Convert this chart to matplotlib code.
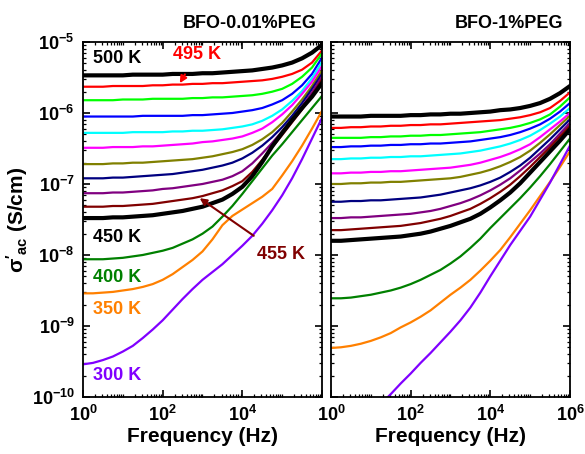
import numpy as np
import matplotlib
matplotlib.use('Agg')
import matplotlib.pyplot as plt
from matplotlib.ticker import LogLocator, LogFormatterMathtext, NullFormatter

# ---------- fontes ----------
plt.rcParams['font.family'] = ['Liberation Sans', 'DejaVu Sans']
plt.rcParams['font.weight'] = 'bold'
plt.rcParams['mathtext.fontset'] = 'custom'
plt.rcParams['mathtext.rm'] = 'Liberation Sans:bold'
plt.rcParams['mathtext.it'] = 'Liberation Sans:bold'
plt.rcParams['mathtext.bf'] = 'Liberation Sans:bold'
plt.rcParams['mathtext.sf'] = 'Liberation Sans:bold'
plt.rcParams['mathtext.default'] = 'bf'

# ---------- dados (log10 da frequência e log10 da condutividade) ----------
log_freq = [0, 0.25, 0.5, 0.75, 1, 1.25, 1.5, 1.75, 2, 2.25, 2.5, 2.75, 3,
            3.25, 3.5, 3.75, 4, 4.25, 4.5, 4.75, 5, 5.25, 5.5, 5.75, 6]

temperatures = [500, 495, 490, 485, 480, 475, 470, 465, 460, 455, 450, 400, 350, 300]
curve_colors = ['#000000', '#FF0000', '#00FF00', '#0000FF', '#00FFFF', '#FF00FF',
                '#808000', '#000080', '#800080', '#800000', '#000000', '#008000',
                '#FF8000', '#8000FF']
curve_widths = [3.0, 1.6, 1.6, 1.6, 1.6, 1.6, 1.6, 1.6, 1.6, 1.6, 3.0, 1.6, 1.6, 1.6]

nan = np.nan

# BFO-0.01%PEG, uma linha por temperatura (mesma ordem de temperatures)
peg001_log_sigma = [
    [-5.47, -5.47, -5.47, -5.47, -5.47, -5.46, -5.46, -5.46, -5.46, -5.45, -5.45, -5.45, -5.44, -5.44, -5.43, -5.42, -5.41, -5.40, -5.38, -5.36, -5.33, -5.29, -5.23, -5.15, -5.04],
    [-5.63, -5.63, -5.63, -5.62, -5.62, -5.62, -5.62, -5.61, -5.61, -5.60, -5.60, -5.59, -5.59, -5.58, -5.58, -5.57, -5.56, -5.55, -5.54, -5.52, -5.49, -5.45, -5.39, -5.29, -5.12],
    [-5.82, -5.82, -5.82, -5.82, -5.81, -5.81, -5.81, -5.80, -5.80, -5.80, -5.80, -5.79, -5.79, -5.78, -5.78, -5.77, -5.76, -5.75, -5.73, -5.70, -5.66, -5.59, -5.49, -5.36, -5.16],
    [-6.05, -6.05, -6.05, -6.05, -6.05, -6.05, -6.04, -6.04, -6.04, -6.04, -6.04, -6.03, -6.03, -6.02, -6.01, -6.00, -5.98, -5.96, -5.93, -5.88, -5.82, -5.73, -5.61, -5.45, -5.22],
    [-6.28, -6.28, -6.28, -6.28, -6.28, -6.27, -6.27, -6.27, -6.27, -6.26, -6.26, -6.25, -6.25, -6.24, -6.23, -6.21, -6.19, -6.16, -6.11, -6.04, -5.95, -5.83, -5.69, -5.51, -5.28],
    [-6.49, -6.49, -6.49, -6.48, -6.48, -6.48, -6.47, -6.47, -6.46, -6.45, -6.44, -6.43, -6.41, -6.40, -6.38, -6.36, -6.33, -6.28, -6.22, -6.13, -6.02, -5.89, -5.73, -5.56, -5.34],
    [-6.72, -6.72, -6.72, -6.71, -6.71, -6.70, -6.70, -6.69, -6.68, -6.67, -6.66, -6.65, -6.63, -6.61, -6.58, -6.55, -6.51, -6.45, -6.37, -6.27, -6.14, -5.98, -5.81, -5.62, -5.40],
    [-6.92, -6.92, -6.92, -6.91, -6.91, -6.90, -6.89, -6.88, -6.87, -6.86, -6.84, -6.82, -6.80, -6.77, -6.74, -6.70, -6.64, -6.56, -6.46, -6.34, -6.20, -6.04, -5.86, -5.66, -5.45],
    [-7.13, -7.13, -7.13, -7.12, -7.12, -7.11, -7.10, -7.09, -7.07, -7.06, -7.04, -7.02, -7.00, -6.97, -6.94, -6.89, -6.82, -6.71, -6.57, -6.42, -6.26, -6.09, -5.91, -5.71, -5.49],
    [-7.32, -7.32, -7.32, -7.31, -7.31, -7.30, -7.29, -7.28, -7.26, -7.24, -7.22, -7.20, -7.17, -7.13, -7.09, -7.03, -6.96, -6.83, -6.66, -6.48, -6.31, -6.13, -5.95, -5.75, -5.53],
    [-7.48, -7.48, -7.48, -7.47, -7.47, -7.46, -7.45, -7.44, -7.42, -7.40, -7.38, -7.35, -7.32, -7.27, -7.22, -7.14, -7.04, -6.89, -6.69, -6.47, -6.28, -6.10, -5.93, -5.77, -5.58],
    [-8.06, -8.06, -8.06, -8.05, -8.04, -8.02, -8.00, -7.97, -7.94, -7.90, -7.84, -7.78, -7.70, -7.60, -7.46, -7.31, -7.14, -6.96, -6.78, -6.60, -6.44, -6.27, -6.10, -5.93, -5.76],
    [-8.54, -8.54, -8.53, -8.52, -8.50, -8.48, -8.45, -8.41, -8.35, -8.27, -8.17, -8.07, -7.95, -7.78, -7.58, -7.45, -7.36, -7.27, -7.18, -7.07, -6.88, -6.68, -6.46, -6.22, -5.97],
    [-9.54, -9.52, -9.48, -9.43, -9.36, -9.28, -9.17, -9.05, -8.92, -8.77, -8.62, -8.48, -8.35, -8.24, -8.13, -8.00, -7.87, -7.73, -7.56, -7.37, -7.16, -6.92, -6.65, -6.36, -6.07],
]

# BFO-1%PEG
peg1_log_sigma = [
    [-6.05, -6.05, -6.05, -6.05, -6.04, -6.04, -6.04, -6.04, -6.03, -6.03, -6.02, -6.02, -6.01, -6.01, -6.00, -5.99, -5.98, -5.96, -5.95, -5.93, -5.90, -5.86, -5.80, -5.72, -5.62],
    [-6.21, -6.21, -6.20, -6.20, -6.19, -6.19, -6.18, -6.18, -6.17, -6.17, -6.16, -6.16, -6.15, -6.14, -6.13, -6.12, -6.11, -6.10, -6.08, -6.06, -6.03, -5.99, -5.93, -5.83, -5.71],
    [-6.35, -6.35, -6.35, -6.35, -6.34, -6.34, -6.33, -6.33, -6.32, -6.32, -6.31, -6.31, -6.30, -6.29, -6.28, -6.27, -6.25, -6.23, -6.21, -6.18, -6.14, -6.09, -6.02, -5.91, -5.78],
    [-6.48, -6.48, -6.47, -6.47, -6.46, -6.46, -6.45, -6.45, -6.44, -6.44, -6.43, -6.43, -6.42, -6.41, -6.40, -6.38, -6.36, -6.34, -6.31, -6.27, -6.22, -6.16, -6.08, -5.98, -5.86],
    [-6.65, -6.65, -6.64, -6.64, -6.63, -6.63, -6.62, -6.62, -6.61, -6.61, -6.60, -6.59, -6.58, -6.57, -6.55, -6.53, -6.50, -6.47, -6.43, -6.38, -6.32, -6.24, -6.15, -6.05, -5.93],
    [-6.85, -6.85, -6.84, -6.84, -6.83, -6.83, -6.82, -6.82, -6.81, -6.80, -6.79, -6.78, -6.77, -6.75, -6.73, -6.70, -6.66, -6.62, -6.57, -6.51, -6.44, -6.34, -6.23, -6.12, -6.00],
    [-7.00, -7.00, -6.99, -6.99, -6.98, -6.98, -6.97, -6.97, -6.96, -6.95, -6.94, -6.93, -6.92, -6.90, -6.87, -6.84, -6.80, -6.75, -6.69, -6.62, -6.53, -6.42, -6.30, -6.17, -6.04],
    [-7.25, -7.25, -7.24, -7.24, -7.23, -7.23, -7.22, -7.21, -7.20, -7.19, -7.17, -7.15, -7.12, -7.09, -7.06, -7.02, -6.97, -6.91, -6.83, -6.74, -6.63, -6.50, -6.37, -6.23, -6.09],
    [-7.48, -7.48, -7.47, -7.47, -7.46, -7.45, -7.44, -7.43, -7.42, -7.40, -7.38, -7.35, -7.31, -7.27, -7.22, -7.16, -7.09, -7.01, -6.92, -6.81, -6.69, -6.57, -6.44, -6.29, -6.14],
    [-7.65, -7.65, -7.64, -7.63, -7.62, -7.61, -7.60, -7.59, -7.57, -7.55, -7.52, -7.49, -7.45, -7.40, -7.35, -7.28, -7.20, -7.11, -7.01, -6.89, -6.76, -6.62, -6.48, -6.33, -6.18],
    [-7.80, -7.80, -7.79, -7.78, -7.77, -7.76, -7.75, -7.74, -7.72, -7.70, -7.67, -7.63, -7.59, -7.54, -7.49, -7.42, -7.33, -7.23, -7.12, -6.99, -6.84, -6.69, -6.54, -6.39, -6.23],
    [-8.61, -8.61, -8.60, -8.58, -8.56, -8.53, -8.50, -8.46, -8.41, -8.35, -8.28, -8.21, -8.12, -8.02, -7.90, -7.77, -7.62, -7.48, -7.34, -7.20, -7.05, -6.89, -6.72, -6.54, -6.36],
    [-9.31, -9.30, -9.28, -9.25, -9.21, -9.16, -9.10, -9.02, -8.95, -8.87, -8.78, -8.67, -8.56, -8.46, -8.35, -8.22, -8.08, -7.93, -7.75, -7.56, -7.37, -7.17, -6.97, -6.76, -6.54],
    [nan, nan, nan, nan, -10.24, -10.10, -9.96, -9.81, -9.67, -9.52, -9.38, -9.23, -9.08, -8.92, -8.74, -8.53, -8.30, -8.08, -7.86, -7.66, -7.46, -7.22, -6.98, -6.72, -6.46],
]


# ---------- eixos ----------
def style_axis(ax, show_ylabels, xlabels):
    ax.set_xscale('log')
    ax.set_yscale('log')
    ax.set_xlim(1, 1e6)
    ax.set_ylim(1e-10, 1e-5)
    ax.set_xticks([1, 1e2, 1e4, 1e6], labels=xlabels)
    ax.xaxis.set_minor_locator(LogLocator(base=10, subs=np.arange(1, 10), numticks=20))
    ax.xaxis.set_minor_formatter(NullFormatter())
    ax.yaxis.set_major_locator(LogLocator(base=10, numticks=10))
    ax.yaxis.set_minor_locator(LogLocator(base=10, subs=np.arange(2, 10), numticks=20))
    ax.yaxis.set_minor_formatter(NullFormatter())
    if show_ylabels:
        ax.yaxis.set_major_formatter(LogFormatterMathtext())
    else:
        ax.yaxis.set_major_formatter(NullFormatter())
    ax.tick_params(which='both', direction='in', top=True, right=True, labelsize=13)
    ax.tick_params(which='major', length=5, width=1.2, pad=6)
    ax.tick_params(which='minor', length=2.5, width=0.9)
    for sp in ax.spines.values():
        sp.set_linewidth(1.3)
    ax.set_xlabel('Frequency (Hz)', fontsize=15, fontweight='bold', labelpad=1)


def plot_panel(ax, log_sigma):
    freq = 10 ** np.array(log_freq)
    for row, color, lw in zip(log_sigma, curve_colors, curve_widths):
        ax.plot(freq, 10 ** np.array(row), color=color, lw=lw)


fig = plt.figure(figsize=(5.85, 4.54), dpi=100)
ax1 = fig.add_axes([0.1419, 0.1256, 0.4085, 0.7819])
ax2 = fig.add_axes([0.5658, 0.1256, 0.4085, 0.7819])

plot_panel(ax1, peg001_log_sigma)
plot_panel(ax2, peg1_log_sigma)
style_axis(ax1, True, [r'$10^{0}$', r'$10^{2}$', r'$10^{4}$', ''])
style_axis(ax2, False, [r'$10^{0}$', r'$10^{2}$', r'$10^{4}$', r'$10^{6}$'])

ax1.set_ylabel(r"$\sigma'_{ac}$ (S/cm)", fontsize=15, fontweight='bold', labelpad=1)

# ---------- etiquetas de temperatura ----------
lbl = dict(fontsize=13, fontweight='bold', va='center', ha='left')
ax1.text(10 ** 0.25, 10 ** -5.23, '500 K', color='#000000', **lbl)
ax1.text(10 ** 0.25, 10 ** -7.76, '450 K', color='#000000', **lbl)
ax1.text(10 ** 0.25, 10 ** -8.32, '400 K', color='#008000', **lbl)
ax1.text(10 ** 0.25, 10 ** -8.77, '350 K', color='#FF8000', **lbl)
ax1.text(10 ** 0.25, 10 ** -9.70, '300 K', color='#8000FF', **lbl)

ax1.annotate('495 K', xy=(10 ** 2.43, 10 ** -5.58), xytext=(10 ** 2.85, 10 ** -5.18),
             color='#FF0000', fontsize=13, fontweight='bold', ha='center', va='center',
             arrowprops=dict(arrowstyle='-|>', color='#FF0000', lw=1.5,
                             mutation_scale=10, shrinkA=7, shrinkB=0))
ax1.annotate('455 K', xy=(10 ** 2.93, 10 ** -7.20), xytext=(10 ** 4.98, 10 ** -8.0),
             color='#800000', fontsize=13, fontweight='bold', ha='center', va='center',
             arrowprops=dict(arrowstyle='-|>', color='#800000', lw=1.5,
                             mutation_scale=10, shrinkA=10, shrinkB=0))

# ---------- títulos ----------
fig.text(0.542, 0.949, 'BFO-0.01%PEG', fontsize=13, fontweight='bold', ha='right', va='center')
fig.text(0.962, 0.949, 'BFO-1%PEG', fontsize=13, fontweight='bold', ha='right', va='center')

fig.savefig('out.png', dpi=100)
